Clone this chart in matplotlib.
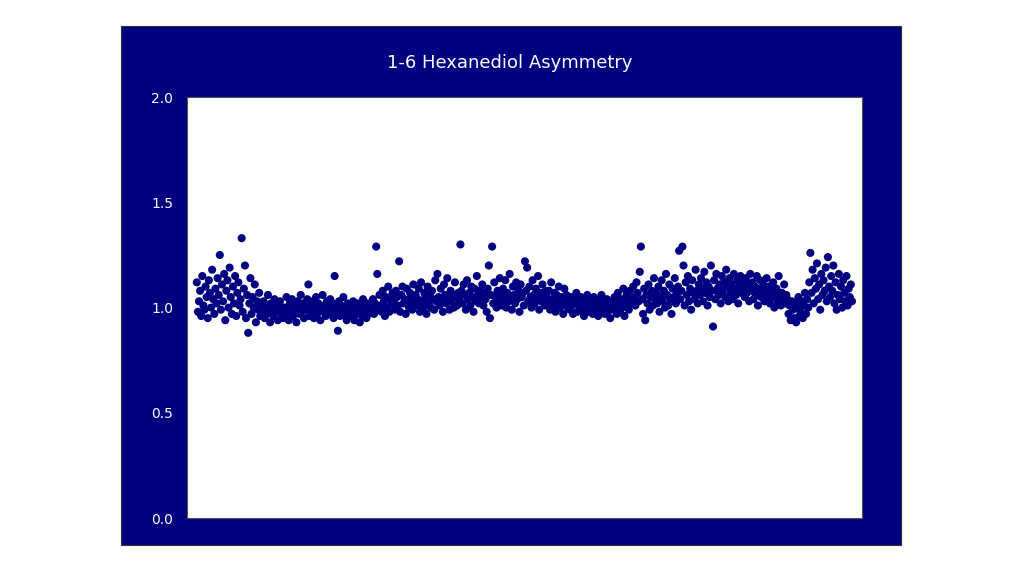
import numpy as np
import matplotlib.pyplot as plt
from matplotlib.patches import Rectangle

# asymmetry values, in sample order
asym = [
    1.12, 0.98, 1.03, 1.08, 0.96, 1.15, 1.01, 0.99, 1.10, 1.05, 0.95, 1.13, 1.07, 1.00, 1.18, 1.04, 0.97, 1.09, 1.02, 1.14,
    1.06, 1.25, 0.99, 1.11, 1.03, 1.16, 0.94, 1.08, 1.13, 1.00, 1.19, 1.05, 0.97, 1.10, 1.02, 1.15, 0.96, 1.07, 1.12, 1.01,
    1.04, 1.33, 0.98, 1.09, 1.20, 0.95, 1.06, 0.88, 1.02, 1.14, 0.97, 1.05, 1.00, 1.11, 0.93, 1.03, 0.99, 1.07, 0.96, 1.01,
    0.98, 1.03, 0.95, 1.01, 0.97, 1.06, 0.99, 0.93, 1.02, 1.00, 0.96, 1.04, 0.98, 1.01, 0.94, 0.99, 1.03, 0.97, 1.00, 0.95,
    1.00, 0.97, 1.05, 0.99, 0.94, 1.02, 0.98, 1.04, 0.96, 1.01, 0.99, 0.93, 1.03, 1.00, 0.97, 1.06, 0.98, 1.02, 0.95, 1.00,
    0.99, 1.04, 1.11, 0.96, 1.01, 0.98, 1.03, 0.95, 1.00, 1.05, 0.97, 1.02, 0.99, 0.94, 1.01, 1.06, 0.98, 1.00, 0.96, 1.03,
    1.01, 0.97, 1.04, 0.99, 1.02, 0.95, 1.15, 1.00, 0.98, 0.89, 1.03, 0.96, 1.01, 0.99, 1.05, 0.97, 1.00, 0.94, 1.02, 0.98,
    0.96, 1.01, 0.98, 1.03, 0.94, 1.00, 0.97, 1.02, 0.99, 0.93, 1.01, 0.96, 1.04, 0.98, 1.00, 0.95, 1.02, 0.97, 0.99, 1.01,
    1.00, 1.04, 0.97, 1.02, 1.29, 1.16, 0.99, 1.06, 1.01, 0.98, 1.08, 1.03, 0.96, 1.05, 1.00, 1.10, 0.98, 1.04, 1.02, 1.07,
    1.03, 0.99, 1.08, 1.05, 1.01, 1.22, 0.98, 1.06, 1.10, 1.02, 1.04, 0.97, 1.09, 1.03, 1.00, 1.07, 1.05, 0.99, 1.11, 1.02,
    1.06, 1.01, 1.04, 1.09, 0.98, 1.12, 1.03, 1.00, 1.07, 1.05, 0.97, 1.10, 1.02, 1.06, 1.00, 1.08, 1.04, 0.99, 1.13, 1.03,
    1.16, 1.05, 1.01, 1.09, 1.03, 0.98, 1.11, 1.06, 1.02, 1.14, 1.04, 0.99, 1.08, 1.03, 1.06, 1.00, 1.12, 1.05, 1.01, 1.07,
    1.04, 1.30, 1.08, 1.02, 1.11, 1.06, 0.99, 1.13, 1.04, 1.07, 1.01, 1.10, 1.05, 0.98, 1.09, 1.03, 1.15, 1.06, 1.02, 1.08,
    1.05, 1.11, 1.01, 1.07, 1.04, 0.98, 1.09, 1.20, 0.95, 1.06, 1.29, 1.02, 1.12, 1.05, 1.00, 1.08, 1.03, 1.14, 1.06, 1.01,
    1.09, 1.04, 1.13, 1.00, 1.07, 1.03, 1.16, 1.05, 0.99, 1.10, 1.06, 1.02, 1.12, 1.04, 1.08, 0.98, 1.11, 1.05, 1.07, 1.01,
    1.22, 1.08, 1.19, 1.03, 1.10, 1.05, 1.00, 1.13, 1.06, 1.02, 1.09, 1.04, 1.15, 0.99, 1.07, 1.03, 1.11, 1.05, 1.01, 1.08,
    1.05, 1.02, 1.08, 0.99, 1.12, 1.04, 1.01, 1.07, 0.98, 1.06, 1.03, 1.10, 1.00, 1.05, 1.02, 0.97, 1.09, 1.03, 1.06, 1.00,
    1.03, 0.99, 1.05, 1.01, 0.97, 1.04, 1.02, 1.07, 0.98, 1.03, 1.00, 1.05, 0.99, 1.02, 0.96, 1.04, 1.01, 1.06, 0.98, 1.02,
    1.00, 1.03, 0.97, 1.05, 1.01, 0.98, 1.04, 0.96, 1.02, 1.00, 1.06, 0.99, 1.03, 0.97, 1.01, 1.04, 0.98, 1.02, 0.95, 1.00,
    1.03, 0.99, 1.05, 1.01, 0.97, 1.07, 1.02, 0.98, 1.04, 1.00, 1.09, 0.96, 1.03, 1.06, 1.01, 0.99, 1.08, 1.04, 1.02, 1.10,
    1.05, 1.01, 1.12, 1.07, 1.03, 1.17, 1.29, 1.04, 0.97, 1.09, 0.94, 1.06, 1.02, 1.11, 0.99, 1.05, 1.08, 1.01, 1.14, 1.04,
    1.07, 1.02, 1.10, 0.98, 1.05, 1.13, 1.03, 1.08, 1.00, 1.16, 1.06, 1.01, 1.11, 1.04, 0.97, 1.09, 1.05, 1.14, 1.02, 1.07,
    1.10, 1.27, 1.04, 1.08, 1.29, 1.20, 1.01, 1.12, 1.06, 1.15, 1.03, 1.09, 0.99, 1.13, 1.07, 1.04, 1.18, 1.08, 1.02, 1.11,
    1.06, 1.14, 1.09, 1.03, 1.17, 1.07, 1.12, 1.01, 1.10, 1.05, 1.20, 1.08, 0.91, 1.13, 1.04, 1.16, 1.09, 1.06, 1.11, 1.02,
    1.15, 1.08, 1.12, 1.05, 1.18, 1.10, 1.03, 1.14, 1.07, 1.11, 1.04, 1.16, 1.09, 1.06, 1.13, 1.02, 1.10, 1.15, 1.07, 1.12,
    1.09, 1.05, 1.14, 1.07, 1.11, 1.03, 1.16, 1.08, 1.12, 1.04, 1.10, 1.06, 1.15, 1.01, 1.09, 1.13, 1.05, 1.08, 1.11, 1.03,
    1.07, 1.14, 1.04, 1.10, 1.02, 1.08, 1.05, 1.12, 1.00, 1.06, 1.09, 1.03, 1.15, 1.05, 1.01, 1.07, 1.04, 1.11, 1.02, 1.06,
    1.04, 0.97, 1.01, 0.94, 1.03, 0.99, 0.95, 1.02, 0.93, 1.00, 1.05, 0.96, 0.98, 1.03, 0.95, 1.01, 1.07, 0.97, 1.04, 1.00,
    1.12, 1.26, 1.07, 1.18, 1.02, 1.14, 1.09, 1.21, 1.04, 1.11, 0.99, 1.16, 1.06, 1.13, 1.08, 1.19, 1.03, 1.24, 1.10, 1.05,
    1.15, 1.08, 1.20, 1.02, 1.12, 0.99, 1.06, 1.16, 1.04, 1.10, 1.00, 1.13, 1.07, 1.03, 1.15, 1.01, 1.09, 1.05, 1.11, 1.03,
]
y_ticks = [0.0, 0.5, 1.0, 1.5, 2.0]
navy = '#000080'

sample = np.arange(1, len(asym) + 1)

fig = plt.figure(figsize=(10.24, 5.71), dpi=100)
fig.patch.set_facecolor('white')

# navy chart frame, behind the plot axes
fig.patches.append(Rectangle((0.118, 0.0455), 0.762, 0.909, transform=fig.transFigure,
                             facecolor=navy, edgecolor='#333333', linewidth=0.8, zorder=-5))

ax = fig.add_axes([0.1826, 0.0928, 0.659, 0.737])
ax.set_zorder(2)
ax.set_facecolor('white')
ax.scatter(sample, asym, s=34, color=navy, edgecolors='none', zorder=3)

ax.set_ylim(0, 2.0)
ax.set_yticks(y_ticks)
ax.set_yticklabels([f'{t:.1f}' for t in y_ticks])
ax.set_xlim(sample[0] - 9, sample[-1] + 9)
ax.set_xticks([])
ax.tick_params(axis='y', length=0, pad=10, colors='white', labelsize=10)
for sp in ax.spines.values():
    sp.set_color('#555555')
    sp.set_linewidth(0.8)

fig.text(0.498, 0.89, '1-6 Hexanediol Asymmetry', color='white', fontsize=13,
         ha='center', va='center', zorder=3)

plt.savefig('out.png', dpi=100)
